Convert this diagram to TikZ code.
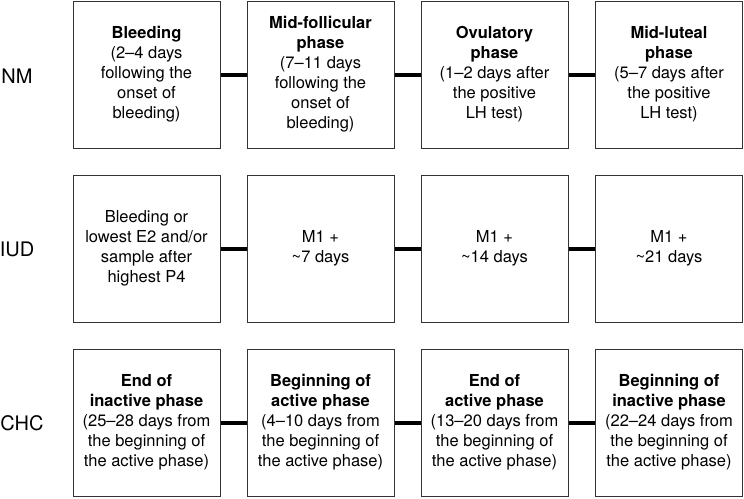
\documentclass[tikz,border=0pt]{standalone}
\usepackage{fontspec}
\setmainfont{TeX Gyre Heros}
\begin{document}
\begin{tikzpicture}[x=1pt,y=-1pt,
  phasebox/.style={draw=black!80,line width=1pt,minimum width=147pt,minimum height=147pt,
    inner sep=2pt,align=center,font=\fontsize{16.5}{20}\selectfont},
  rowlabel/.style={font=\fontsize{20}{24}\selectfont,inner sep=0pt},
  link/.style={line width=4pt,black}]
\useasboundingbox (0,0) rectangle (744,498);
% labels
\node[rowlabel] (lNM) at (17,76) {NM};
\node[rowlabel] (lIUD) at (17,249) {IUD};
\node[rowlabel] (lCHC) at (22,423) {CHC};
% row 1
\node[phasebox] (a1) at (146.5,74.5) {\textbf{Bleeding}\\(2–4 days\\following the\\onset of\\bleeding)};
\node[phasebox] (a2) at (320.5,74.5) {\textbf{Mid-follicular}\\\textbf{phase}\\(7–11 days\\following the\\onset of\\bleeding)};
\node[phasebox] (a3) at (494.5,74.5) {\textbf{Ovulatory}\\\textbf{phase}\\(1–2 days after\\the positive\\LH test)};
\node[phasebox] (a4) at (669,74.5) {\textbf{Mid-luteal}\\\textbf{phase}\\(5–7 days after\\the positive\\LH test)};
% row 2
\node[phasebox] (b1) at (146.5,248.5) {Bleeding or\\lowest E2 and/or\\sample after\\highest P4};
\node[phasebox] (b2) at (320.5,248.5) {M1 +\\\textasciitilde7 days};
\node[phasebox] (b3) at (494.5,248.5) {M1 +\\\textasciitilde14 days};
\node[phasebox] (b4) at (669,248.5) {M1 +\\\textasciitilde21 days};
% row 3
\node[phasebox] (c1) at (146.5,422.5) {\textbf{End of}\\\textbf{inactive phase}\\(25–28 days from\\the beginning of\\the active phase)};
\node[phasebox] (c2) at (320.5,422.5) {\textbf{Beginning of}\\\textbf{active phase}\\(4–10 days from\\the beginning of\\the active phase)};
\node[phasebox] (c3) at (494.5,422.5) {\textbf{End of}\\\textbf{active phase}\\(13–20 days from\\the beginning of\\the active phase)};
\node[phasebox] (c4) at (669,422.5) {\textbf{Beginning of}\\\textbf{inactive phase}\\(22–24 days from\\the beginning of\\the active phase)};
% connectors
\foreach \r in {a,b,c}{
  \draw[link] (\r1.east) -- (\r2.west);
  \draw[link] (\r2.east) -- (\r3.west);
  \draw[link] (\r3.east) -- (\r4.west);
}
\end{tikzpicture}
\end{document}
